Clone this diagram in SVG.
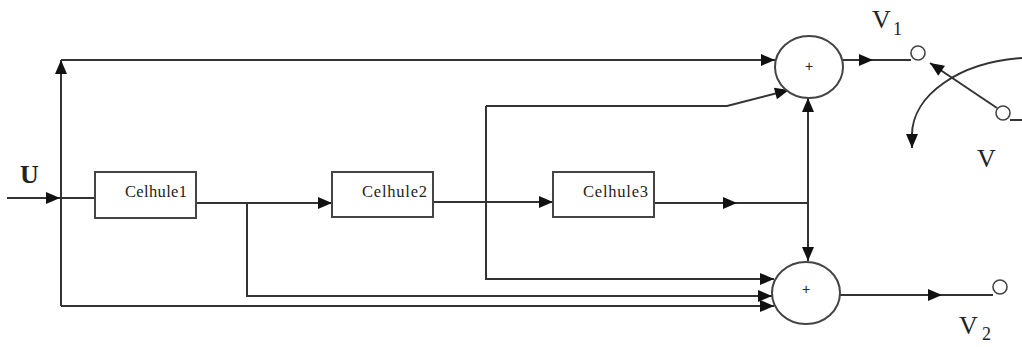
<svg xmlns="http://www.w3.org/2000/svg" width="1022" height="347" viewBox="0 0 1022 347">
<style>
.ln{fill:none;stroke:#333;stroke-width:2}
.bx{fill:#fff;stroke:#444;stroke-width:2}
.sum{fill:#fff;stroke:#444;stroke-width:2}
.term{fill:#fff;stroke:#444;stroke-width:1.6}
.cel{font-family:"Liberation Serif",serif;font-size:16.5px;fill:#222}
.lbl{font-family:"Liberation Serif",serif;font-size:26px;fill:#222}
.sub{font-family:"Liberation Serif",serif;font-size:18px;fill:#222}
.plus{font-family:"Liberation Sans",sans-serif;font-size:14px;fill:#222}
</style>
<defs>
<marker id="ar" markerUnits="userSpaceOnUse" markerWidth="15" markerHeight="13" refX="14" refY="6" orient="auto" overflow="visible">
<path d="M0,0 L14,6 L0,12 z" fill="#111"/>
</marker>
</defs>
<rect width="1022" height="347" fill="#fff"/>
<g id="connectors">
<path class="ln" d="M7,198 H60" marker-end="url(#ar)"/>
<path class="ln" d="M61,198 H95"/>
<path class="ln" d="M61,306 V60" marker-end="url(#ar)"/>
<path class="ln" d="M61,60 H775" marker-end="url(#ar)"/>
<path class="ln" d="M61,306 H774" marker-end="url(#ar)"/>
<path class="ln" d="M196,203 H332" marker-end="url(#ar)"/>
<path class="ln" d="M247,203 V296 H772" marker-end="url(#ar)"/>
<path class="ln" d="M433,202 H553" marker-end="url(#ar)"/>
<path class="ln" d="M486,106 V279 H774" marker-end="url(#ar)"/>
<path class="ln" d="M486,106 H727 L789,90" marker-end="url(#ar)"/>
<path class="ln" d="M654,203 H737" marker-end="url(#ar)"/>
<path class="ln" d="M737,203 H808"/>
<path class="ln" d="M808,203 V98" marker-end="url(#ar)"/>
<path class="ln" d="M808,203 V261" marker-end="url(#ar)"/>
<path class="ln" d="M843,60 H873" marker-end="url(#ar)"/>
<path class="ln" d="M873,60 H911"/>
<path class="ln" d="M840,295 H942" marker-end="url(#ar)"/>
<path class="ln" d="M942,295 H993"/>
<path class="ln" d="M997,108 L930,63" marker-end="url(#ar)"/>
<path class="ln" d="M1010,120 H1022"/>
<path class="ln" d="M1022,58 C960,62 912,95 912,135" stroke-width="1.8"/>
<path class="ln" d="M912,133 V148" marker-end="url(#ar)"/>
</g>
<g id="U"><text class="lbl" x="20" y="183" font-weight="bold">U</text></g>
<g id="celhule1">
<rect class="bx" x="95" y="172" width="101" height="46"/>
<text class="cel" x="125" y="197" textLength="62" lengthAdjust="spacing">Celhule1</text>
</g>
<g id="celhule2">
<rect class="bx" x="332" y="172" width="101" height="45"/>
<text class="cel" x="362" y="197" textLength="65" lengthAdjust="spacing">Celhule2</text>
</g>
<g id="celhule3">
<rect class="bx" x="553" y="172" width="101" height="45"/>
<text class="cel" x="583" y="197" textLength="65" lengthAdjust="spacing">Celhule3</text>
</g>
<g id="sum1">
<ellipse class="sum" cx="809" cy="67" rx="34" ry="31"/>
<text class="plus" x="809" y="71" text-anchor="middle">+</text>
</g>
<g id="sum2">
<ellipse class="sum" cx="806" cy="293" rx="34" ry="31"/>
<text class="plus" x="806" y="294" text-anchor="middle">+</text>
</g>
<g id="V1">
<circle class="term" cx="918" cy="53" r="7"/>
<text class="lbl" x="872" y="28">V</text><text class="sub" x="893" y="35">1</text>
</g>
<g id="V">
<circle class="term" cx="1003" cy="113" r="7"/>
<text class="lbl" x="977" y="167">V</text>
</g>
<g id="V2">
<circle class="term" cx="1000" cy="287" r="7"/>
<text class="lbl" x="959" y="334">V</text><text class="sub" x="982" y="340">2</text>
</g>
</svg>
